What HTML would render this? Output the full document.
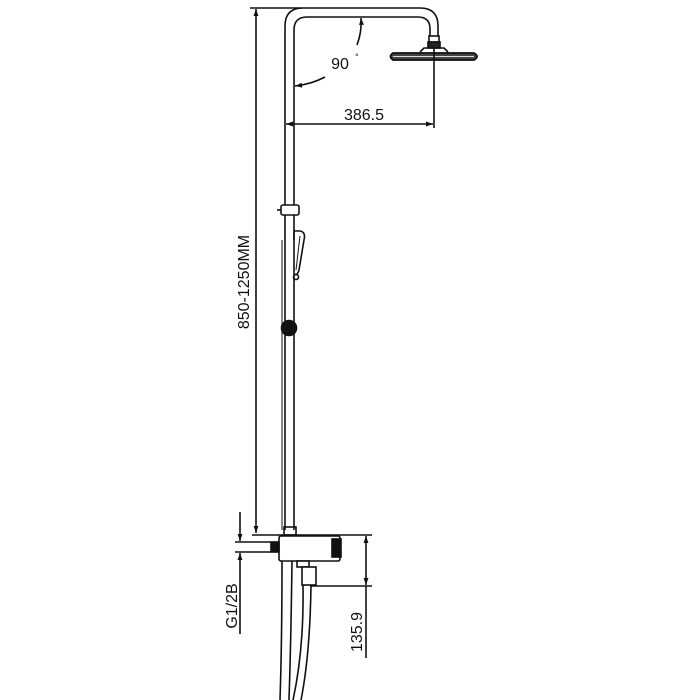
<!DOCTYPE html>
<html><head><style>html,body{margin:0;padding:0;background:#fff;}svg{display:block}</style></head>
<body>
<svg width="700" height="700" viewBox="0 0 700 700" xmlns="http://www.w3.org/2000/svg" font-family="Liberation Sans, Arial, sans-serif">
<defs>
<marker id="a" viewBox="0 0 10 10" refX="10" refY="5" markerWidth="10" markerHeight="7" orient="auto-start-reverse" markerUnits="userSpaceOnUse"><path d="M0,1.5 L10,5 L0,8.5z" fill="#111"/></marker>
</defs>
<g stroke="#111" stroke-width="1.6" fill="none">
<line x1="250" y1="8" x2="302" y2="8"/>
<line x1="256" y1="9" x2="256" y2="533" marker-start="url(#a)" marker-end="url(#a)"/>
<line x1="252" y1="535" x2="372" y2="535"/>
<path d="M285,530 L285,26 Q285,8 303,8 L420,8 Q438,8 438,26 L438,36"/>
<path d="M294,530 L294,30 Q294,17 307,17 L418,17 Q430,17 430,29 L430,36"/>
<rect x="429" y="36" width="10" height="6"/>
<rect x="428" y="42" width="12" height="6" fill="#222"/>
<path d="M420,52 L424,48 L444,48 L448,52"/>
<path d="M393,53 L474,53 Q480,56.5 474,60 L393,60 Q388,56.5 393,53Z" fill="#444" stroke-width="1.8"/>
<line x1="393" y1="56.5" x2="474" y2="56.5" stroke="#ddd" stroke-width="1"/>
<line x1="434" y1="48" x2="434" y2="128"/>
<path d="M357,45 Q362,32 361,18" marker-end="url(#a)"/>
<path d="M325,77 Q312,84 295,86" marker-end="url(#a)"/>
<line x1="286" y1="124" x2="433" y2="124" marker-start="url(#a)" marker-end="url(#a)"/>
<rect x="281" y="205" width="18" height="10" rx="2" fill="#fff"/>
<line x1="277" y1="210" x2="281" y2="210"/>
<path d="M294,240 L294,231 L300,231 Q306,232 304,240 L299,270 Q297,276 295,274"/>
<path d="M300,236 L296,270" stroke-width="1"/>
<circle cx="296" cy="277" r="2.5"/>
<circle cx="289" cy="328" r="7.5" fill="#111"/>
<line x1="282" y1="240" x2="282" y2="530" stroke-width="1"/>
<rect x="284" y="527" width="12" height="8"/>
<rect x="279" y="536" width="61" height="25" rx="2" fill="#fff"/>
<rect x="332" y="539" width="9" height="18" fill="#111"/>
<rect x="271" y="542" width="8" height="10" fill="#111"/>
<line x1="235" y1="542" x2="271" y2="542"/>
<line x1="235" y1="552" x2="271" y2="552"/>
<rect x="297" y="561" width="12" height="6" fill="#fff"/>
<rect x="302" y="567" width="14" height="18" fill="#fff"/>
<line x1="310" y1="586" x2="372" y2="586"/>
<line x1="366" y1="536" x2="366" y2="585" marker-start="url(#a)" marker-end="url(#a)"/>
<line x1="366" y1="586" x2="366" y2="658"/>
<line x1="240" y1="512" x2="240" y2="541" marker-end="url(#a)"/>
<line x1="240" y1="575" x2="240" y2="553" marker-end="url(#a)"/>
<line x1="240" y1="575" x2="240" y2="634"/>
<path d="M282,561 Q282,640 280,700"/>
<path d="M292,561 Q291,640 289,700"/>
<path d="M303,585 Q304,650 293,700"/>
<path d="M311,585 Q310,655 301,700"/>
</g>
<g fill="#111" font-size="16">
<text x="340" y="69" text-anchor="middle">90</text>
<text x="355" y="60" font-size="9">°</text>
<text x="364" y="120" text-anchor="middle">386.5</text>
<text transform="translate(249,282) rotate(-90)" text-anchor="middle">850-1250MM</text>
<text transform="translate(237,606) rotate(-90)" text-anchor="middle">G1/2B</text>
<text transform="translate(362,632) rotate(-90)" text-anchor="middle">135.9</text>
</g>
</svg>
</body></html>
